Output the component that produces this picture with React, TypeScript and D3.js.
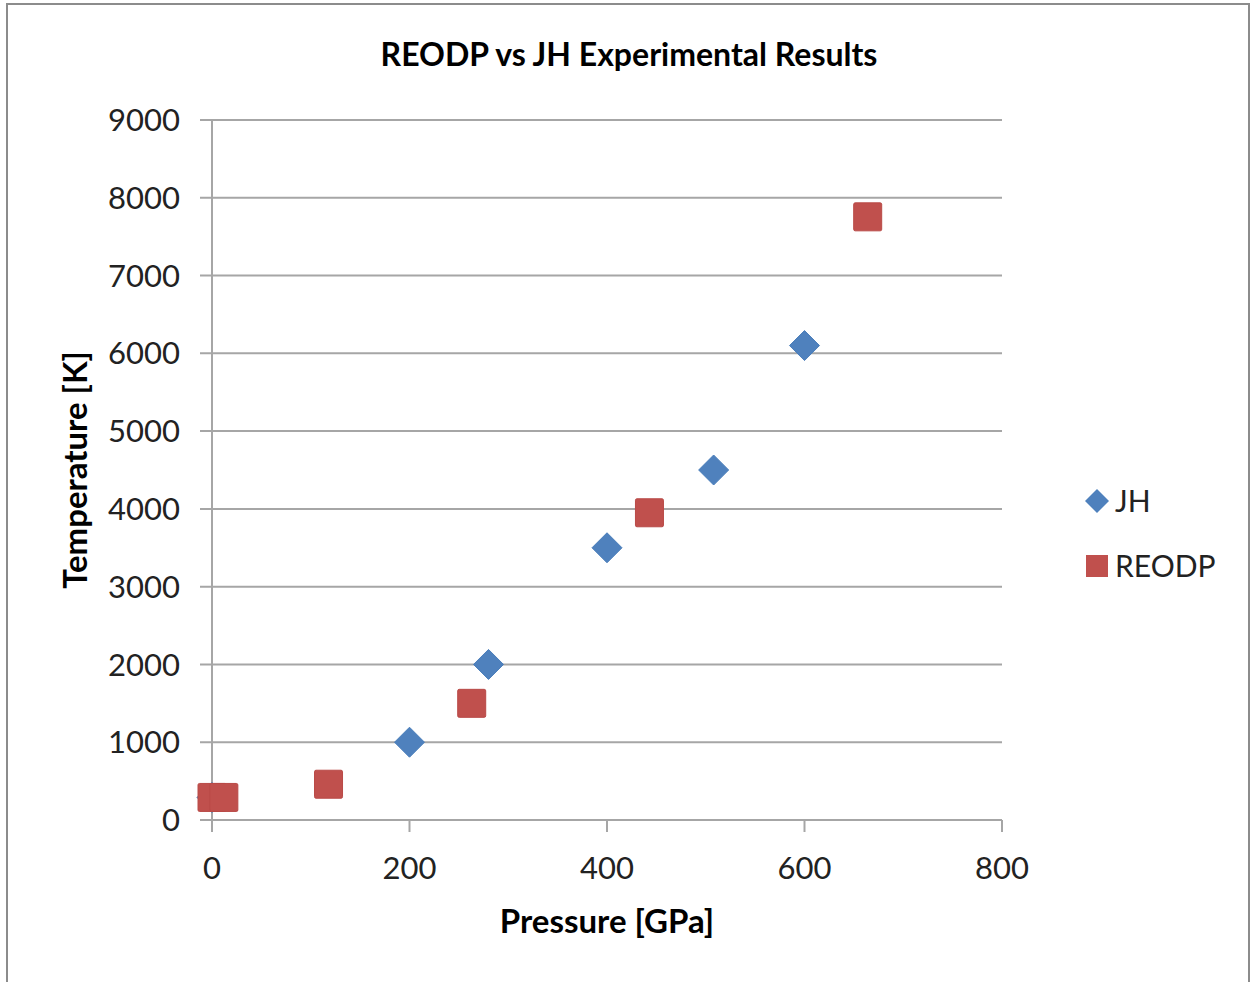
import * as d3 from "d3";
import React from "react";

const jhPressure = [0, 200, 280, 400, 508, 600];
const jhTemp = [290, 1000, 2000, 3500, 4500, 6100];
const reodpPressure = [0, 12, 118, 263, 443, 664];
const reodpTemp = [290, 290, 460, 1500, 3950, 7755];
const xTicks = [0, 200, 400, 600, 800];
const yTicks = [0, 1000, 2000, 3000, 4000, 5000, 6000, 7000, 8000, 9000];

const width = 1253;
const height = 982;
const margin = { top: 120, right: 251, bottom: 162, left: 212 };
const font = "Lato, 'Open Sans', sans-serif";
const gridColor = "#a6a6a6";
const blue = "#4f81bd";
const red = "#c0504d";

const App: React.FC = () => {
  const x = d3
    .scaleLinear()
    .domain([0, 800])
    .range([margin.left, width - margin.right]);
  const y = d3
    .scaleLinear()
    .domain([0, 9000])
    .range([height - margin.bottom, margin.top]);

  const diamond = (cx: number, cy: number, r: number) =>
    `M${cx},${cy - r}L${cx + r},${cy}L${cx},${cy + r}L${cx - r},${cy}Z`;

  const [x0, x1] = x.range();
  const [y0, y1] = y.range();

  return (
    <svg
      width={width}
      height={height}
      style={{ position: "absolute", left: 0, top: 0, background: "#fff" }}
    >
      <rect x={7} y={4} width={1242} height={1000} fill="#fff" stroke="#8c8c8c" strokeWidth={2} />

      <text x={629} y={66} textAnchor="middle" fontFamily={font} fontWeight="bold" fontSize={32}>
        REODP vs JH Experimental Results
      </text>

      {/* gridlines + y ticks */}
      {yTicks.map((t) => (
        <g key={t}>
          <line x1={x0 - 12} x2={x1} y1={y(t)} y2={y(t)} stroke={gridColor} strokeWidth={2} />
          <text x={180} y={y(t)} dy="0.36em" textAnchor="end" fontFamily={font} fontSize={31} fill="#222">
            {t}
          </text>
        </g>
      ))}

      {/* y axis line */}
      <line x1={x0} x2={x0} y1={y1} y2={y0 + 12} stroke={gridColor} strokeWidth={2} />

      {/* x ticks */}
      {xTicks.map((t) => (
        <g key={t}>
          <line x1={x(t)} x2={x(t)} y1={y0} y2={y0 + 12} stroke={gridColor} strokeWidth={2} />
          <text x={x(t)} y={879} textAnchor="middle" fontFamily={font} fontSize={31} fill="#222">
            {t}
          </text>
        </g>
      ))}

      <text x={607} y={933} textAnchor="middle" fontFamily={font} fontWeight="bold" fontSize={33}>
        Pressure [GPa]
      </text>
      <text
        transform={`translate(87,${(y0 + y1) / 2}) rotate(-90)`}
        textAnchor="middle"
        fontFamily={font}
        fontWeight="bold"
        fontSize={33}
      >
        Temperature [K]
      </text>

      {/* JH series */}
      {jhPressure.map((p, i) => (
        <path key={`jh${i}`} d={diamond(x(p), y(jhTemp[i]), 15)} fill={blue} stroke="#4a7ebb" strokeWidth={1} />
      ))}

      {/* REODP series */}
      {reodpPressure.map((p, i) => (
        <rect
          key={`re${i}`}
          x={x(p) - 14}
          y={y(reodpTemp[i]) - 14}
          width={28}
          height={28}
          rx={1.5}
          fill={red}
          stroke="#b94a47"
          strokeWidth={1}
        />
      ))}

      {/* legend */}
      <path d={diamond(1097, 501, 12)} fill={blue} />
      <text x={1115} y={501} dy="0.36em" fontFamily={font} fontSize={30} fill="#222">
        JH
      </text>
      <rect x={1086} y={555} width={22} height={22} fill={red} />
      <text x={1115} y={566} dy="0.36em" fontFamily={font} fontSize={30} fill="#222">
        REODP
      </text>
    </svg>
  );
};

export default App;
